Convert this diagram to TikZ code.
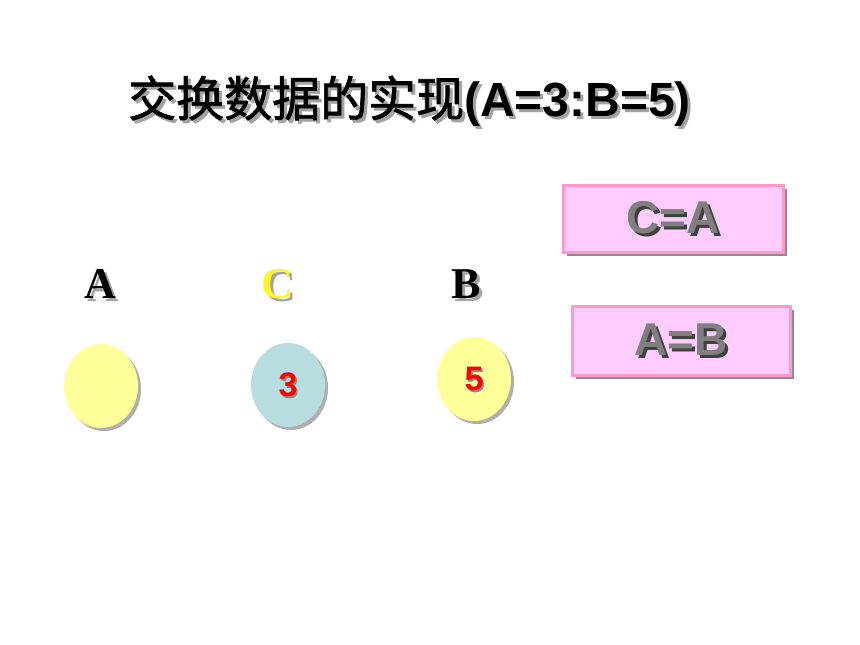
\documentclass[tikz,border=0pt]{standalone}
\usepackage{fontspec}
\setmainfont{Liberation Serif}
\setsansfont{Liberation Sans}
\newfontfamily\cjk[FakeBold=1.5]{Noto Sans CJK SC}
\usetikzlibrary{shapes.geometric}
\definecolor{ylw}{HTML}{FFFF99}
\definecolor{lblue}{HTML}{B8DDE1}
\definecolor{pinkfill}{HTML}{FFCCFF}
\definecolor{pinkline}{HTML}{FF99CC}
\definecolor{shd}{HTML}{8C8C8C}
\definecolor{txtgray}{HTML}{7F7F7F}
\tikzset{
  ball/.style={ellipse, minimum width=74pt, minimum height=84pt, inner sep=0pt, draw=none},
  ballshadow/.style={ball, fill=shd!70},
  lbl/.style={font=\bfseries\fontsize{44}{48}\selectfont, inner sep=0pt},
  num/.style={font=\sffamily\bfseries\fontsize{34}{36}\selectfont, text=red, inner sep=0pt},
  stmt/.style={draw=pinkline, line width=3pt, fill=pinkfill, inner sep=0pt},
  stmttext/.style={font=\sffamily\bfseries\fontsize{46}{50}\selectfont, inner sep=0pt},
}
\begin{document}
\begin{tikzpicture}[x=1pt,y=-1pt]
\useasboundingbox[fill=white] (0,0) rectangle (860,645);
% title
\node[anchor=west, inner sep=0pt, text=shd!80] (titleS) at (131,104)
  {\fontsize{48}{52}\selectfont{\cjk 交换数据的实现}{\sffamily\bfseries (A=3:B=5)}};
\node[anchor=west, inner sep=0pt] (title) at (128,101)
  {\fontsize{48}{52}\selectfont{\cjk 交换数据的实现}{\sffamily\bfseries (A=3:B=5)}};
% labels
\node[lbl, text=shd!80] (labAs) at (103,287) {A};
\node[lbl] (labA) at (100,284) {A};
\node[lbl, text=shd!80] (labCs) at (280,287) {C};
\node[lbl, text=yellow!85!white] (labC) at (277,284) {C};
\node[lbl, text=shd!80] (labBs) at (469,287) {B};
\node[lbl] (labB) at (466,284) {B};
% balls
\node[ballshadow] (ballAs) at (104,389) {};
\node[ball, fill=ylw] (ballA) at (101,386) {};
\node[ballshadow] (ballCs) at (291,388) {};
\node[ball, fill=lblue] (ballC) at (288,385) {};
\node[ballshadow] (ballBs) at (477,382) {};
\node[ball, fill=ylw] (ballB) at (474,379) {};
\node[num, text=shd] (numCs) at (289.5,386.5) {3};
\node[num] (numC) at (288,385) {3};
\node[num, text=shd] (numBs) at (475.5,380.5) {5};
\node[num] (numB) at (474,379) {5};
% statements
\fill[shd] (567,189) rectangle (787,256);
\draw[stmt] (563,185) rectangle (783,252);
\node[stmttext, text=black!75] (s1s) at (676,221) {C=A};
\node[stmttext, text=txtgray] (s1) at (673,218) {C=A};
\fill[shd] (576,310) rectangle (794,379);
\draw[stmt] (572,306) rectangle (790,375);
\node[stmttext, text=black!75] (s2s) at (684,343) {A=B};
\node[stmttext, text=txtgray] (s2) at (681,340) {A=B};
\end{tikzpicture}
\end{document}
